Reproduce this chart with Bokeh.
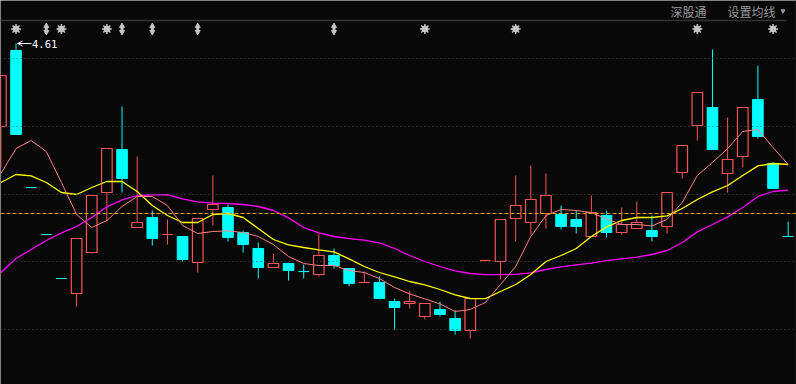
import numpy as np
from bokeh.plotting import figure
from bokeh.models import ColumnDataSource, Span, Label, Arrow, OpenHead, Range1d
from bokeh.embed import file_html
from bokeh.resources import INLINE

# ---------------- data ----------------
opens = [4.195, 4.575, 3.890, 3.655, 3.435, 3.360, 3.565, 3.865, 4.080, 3.690,
         3.740, 3.655, 3.645, 3.515, 3.780, 3.790, 3.665, 3.585, 3.490, 3.510,
         3.470, 3.455, 3.550, 3.485, 3.415, 3.415, 3.320, 3.310, 3.245, 3.280,
         3.235, 3.175, 3.525, 3.520, 3.735, 3.715, 3.760, 3.755, 3.730, 3.645,
         3.750, 3.665, 3.685, 3.675, 3.695, 3.965, 4.200, 4.290, 3.960, 4.045,
         4.330, 4.010, 3.645]
highs = [4.450, 4.610, 3.890, 3.655, 3.435, 3.635, 3.850, 4.085, 4.295, 4.045,
         3.775, 3.730, 3.645, 3.735, 3.950, 3.805, 3.675, 3.615, 3.560, 3.510,
         3.505, 3.660, 3.585, 3.485, 3.470, 3.445, 3.335, 3.375, 3.310, 3.320,
         3.275, 3.335, 3.525, 3.730, 3.950, 4.000, 3.960, 3.800, 3.775, 3.850,
         3.775, 3.790, 3.820, 3.750, 3.865, 4.100, 4.365, 4.580, 4.240, 4.290,
         4.500, 4.015, 3.720]
lows = [3.990, 4.155, 3.890, 3.655, 3.435, 3.295, 3.560, 3.720, 3.865, 3.690,
        3.600, 3.605, 3.520, 3.465, 3.700, 3.620, 3.565, 3.435, 3.490, 3.425,
        3.435, 3.445, 3.485, 3.395, 3.415, 3.330, 3.180, 3.285, 3.230, 3.245,
        3.155, 3.135, 3.525, 3.430, 3.620, 3.655, 3.685, 3.680, 3.660, 3.645,
        3.640, 3.655, 3.685, 3.620, 3.660, 3.935, 4.125, 4.080, 3.865, 3.990,
        4.135, 3.885, 3.645]
closes = [4.450, 4.155, 3.890, 3.655, 3.435, 3.635, 3.850, 4.085, 3.935, 3.715,
          3.635, 3.655, 3.530, 3.735, 3.805, 3.640, 3.605, 3.490, 3.510, 3.475,
          3.470, 3.550, 3.500, 3.410, 3.415, 3.335, 3.290, 3.320, 3.310, 3.255,
          3.175, 3.335, 3.525, 3.730, 3.800, 3.830, 3.850, 3.695, 3.695, 3.765,
          3.665, 3.705, 3.715, 3.645, 3.865, 4.100, 4.365, 4.080, 4.030, 4.290,
          4.145, 3.885, 3.645]

ma5 = [3.960, 4.085, 4.125, 4.070, 3.915, 3.755, 3.690, 3.725, 3.795, 3.845,
       3.845, 3.800, 3.700, 3.660, 3.670, 3.673, 3.665, 3.645, 3.605, 3.545,
       3.510, 3.500, 3.500, 3.475, 3.465, 3.435, 3.390, 3.358, 3.333, 3.308,
       3.270, 3.280, 3.315, 3.405, 3.495, 3.645, 3.750, 3.780, 3.775, 3.765,
       3.733, 3.705, 3.705, 3.698, 3.730, 3.815, 3.950, 4.015, 4.085, 4.170,
       4.180, 4.090, 4.005]
ma10 = [3.915, 3.955, 3.948, 3.915, 3.865, 3.855, 3.890, 3.920, 3.920, 3.870,
        3.800, 3.750, 3.715, 3.715, 3.755, 3.760, 3.740, 3.685, 3.630, 3.603,
        3.590, 3.578, 3.568, 3.533, 3.495, 3.465, 3.443, 3.420, 3.403, 3.380,
        3.353, 3.335, 3.334, 3.370, 3.405, 3.455, 3.520, 3.550, 3.585, 3.645,
        3.693, 3.725, 3.740, 3.740, 3.748, 3.785, 3.830, 3.868, 3.900, 3.950,
        3.998, 4.010, 4.005]
ma20 = [3.465, 3.535, 3.580, 3.625, 3.663, 3.695, 3.740, 3.793, 3.828, 3.850,
        3.853, 3.854, 3.833, 3.818, 3.812, 3.810, 3.805, 3.795, 3.775, 3.738,
        3.690, 3.663, 3.645, 3.634, 3.627, 3.613, 3.585, 3.550, 3.520, 3.495,
        3.473, 3.460, 3.454, 3.454, 3.456, 3.463, 3.480, 3.493, 3.503, 3.512,
        3.524, 3.533, 3.542, 3.555, 3.575, 3.615, 3.668, 3.705, 3.743, 3.790,
        3.845, 3.870, 3.877]

ref_price = 3.76
grid_levels = [4.535, 4.195, 3.855, 3.52, 3.18]
sun_marks = [1, 4, 7, 28, 34, 46, 51]
arrow_marks = [3, 8, 10, 13, 22]
header_left = "深股通"
header_right = "设置均线"

# ---------------- layout helpers ----------------
W, H = 796, 384
PX_PER_BAR = 15.14
X0 = 0.4
Y_TOP, Y_BOT = 4.825, 2.905
PX_Y = (Y_TOP - Y_BOT) / H


def px(pixel):
    return (pixel - X0) / PX_PER_BAR


def py(pixel):
    return Y_TOP - pixel * PX_Y


BG = "#080808"
RED = "#FF5454"
CYAN = "#00FFFF"

p = figure(width=W, height=H, x_range=Range1d(px(0), px(W)),
           y_range=Range1d(Y_BOT, Y_TOP), output_backend="svg",
           toolbar_location=None, x_axis_type=None, y_axis_type=None,
           min_border=0, background_fill_color=BG, border_fill_color=BG,
           outline_line_color=None)
p.grid.visible = False

# grid lines
for g in grid_levels:
    p.add_layout(Span(location=g, dimension="width", line_color="#4c4c4c",
                      line_dash="1 3", line_width=1))
p.add_layout(Span(location=ref_price, dimension="width", line_color="#D9A300",
                  line_dash="4 2", line_width=1))

# header
p.segment(x0=[px(0)], y0=[py(20)], x1=[px(786)], y1=[py(20)],
          line_color="#333333", line_width=1.5)
p.segment(x0=[px(795.5)], y0=[py(0)], x1=[px(795.5)], y1=[py(H)],
          line_color="#1c1c1c", line_width=1)
p.add_layout(Label(x=px(670), y=py(10.5), text=header_left, text_font="Noto Sans CJK SC",
                   text_font_size="12px", text_color="#9a9a9a", text_baseline="middle"))
p.add_layout(Label(x=px(727), y=py(10.5), text=header_right, text_font="Noto Sans CJK SC",
                   text_font_size="12px", text_color="#9a9a9a", text_baseline="middle"))
p.scatter(x=[px(782.5)], y=[py(10.5)], marker="inverted_triangle", size=4,
          fill_color="#9a9a9a", line_color="#9a9a9a")

# candles
o = np.array(opens)
c = np.array(closes)
hi = np.array(highs)
lo = np.array(lows)
n = len(o)
idx = np.arange(n)
prev_c = np.concatenate([[c[0]], c[:-1]])
up = (c > o) | ((c == o) & (c >= prev_c))
top = np.maximum(o, c)
bot = np.minimum(o, c)
doji = o == c
colors = np.where(up, RED, CYAN)

src = ColumnDataSource(dict(x=idx, hi=hi, lo=lo, top=top, bot=bot, col=colors))
p.segment(x0="x", y0="hi", x1="x", y1="top", line_color="col", line_width=1, source=src)
p.segment(x0="x", y0="bot", x1="x", y1="lo", line_color="col", line_width=1, source=src)

bw = 0.7
m_up = up & ~doji
m_dn = ~up & ~doji
p.vbar(x=idx[m_up], top=top[m_up], bottom=bot[m_up], width=bw,
       fill_alpha=0, line_color=RED, line_width=1.2)
p.vbar(x=idx[m_dn], top=top[m_dn], bottom=bot[m_dn], width=bw,
       fill_color=CYAN, line_color=CYAN, line_width=1)
p.segment(x0=idx[doji] - bw / 2, y0=c[doji], x1=idx[doji] + bw / 2, y1=c[doji],
          line_color=list(colors[doji]), line_width=1.2)

# moving averages
p.line(idx, ma20, line_color="#FF00FF", line_width=1.3)
p.line(idx, ma10, line_color="#FFFF00", line_width=1.3)
p.line(idx, ma5, line_color="#FF8080", line_width=1)

# marker row
my = py(28.5)
p.scatter(x=sun_marks, y=[my] * len(sun_marks), marker="asterisk", size=10,
          line_color="#c4c4c4", line_width=1.5)
p.scatter(x=sun_marks, y=[my] * len(sun_marks), marker="circle", size=6,
          fill_color="#c4c4c4", line_color="#c4c4c4")
p.rect(x=arrow_marks, y=[my] * len(arrow_marks), width=3, height=6,
       width_units="screen", height_units="screen", fill_color="#c4c4c4", line_color=None)
p.scatter(x=arrow_marks, y=[py(25.5)] * len(arrow_marks), marker="triangle", size=5,
          fill_color="#c4c4c4", line_color="#c4c4c4")
p.scatter(x=arrow_marks, y=[py(31.5)] * len(arrow_marks), marker="inverted_triangle", size=5,
          fill_color="#c4c4c4", line_color="#c4c4c4")

# max-price annotation
imax = int(np.argmax(hi))
ymax = hi[imax]
p.add_layout(Arrow(end=OpenHead(size=5, line_color="white", line_width=1),
                   x_start=imax + 15.5 / PX_PER_BAR, y_start=ymax,
                   x_end=imax + 1.5 / PX_PER_BAR, y_end=ymax,
                   line_color="white", line_width=1))
p.add_layout(Label(x=imax + 16 / PX_PER_BAR, y=ymax, text=f"{ymax:.2f}",
                   text_font="DejaVu Sans Mono", text_font_size="10.5px",
                   text_color="white", text_baseline="middle"))

open("out.html", "w").write(file_html(p, INLINE))
